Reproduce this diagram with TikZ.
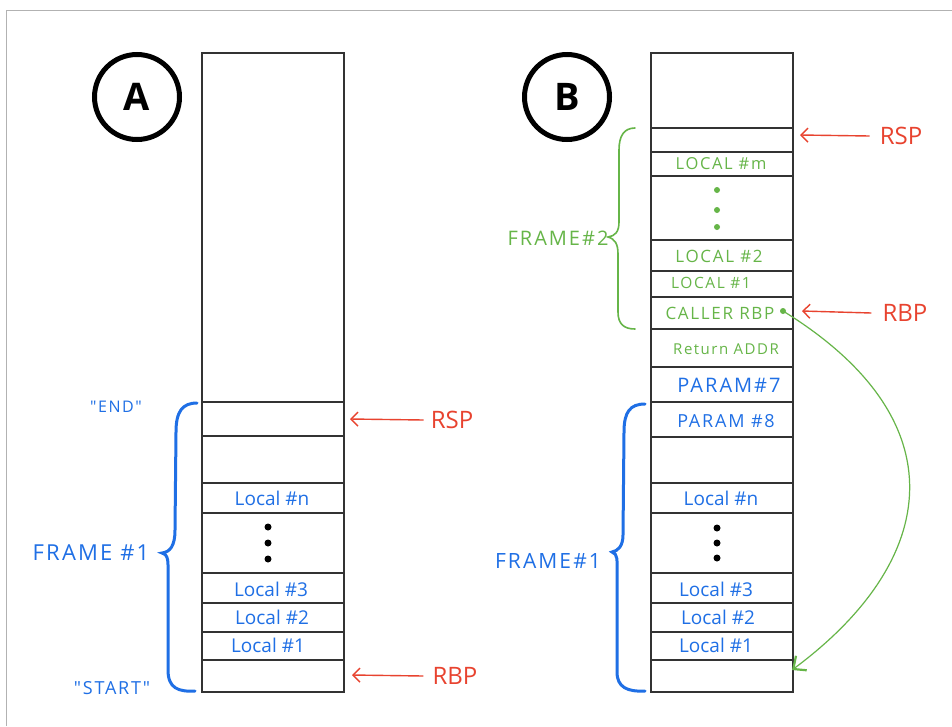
\documentclass[tikz,border=0pt]{standalone}
\usepackage{fontspec}
\setmainfont{Open Sans}
\newfontfamily\handcaps[LetterSpace=10]{Open Sans}
\usetikzlibrary{arrows.meta}
\definecolor{hblue}{HTML}{1F6FE5}
\definecolor{hred}{HTML}{E8432F}
\definecolor{hgreen}{HTML}{66B548}
\definecolor{hgray}{HTML}{333333}
\newcommand{\fsz}[1]{\fontsize{#1}{#1}\selectfont}
\tikzset{
  cellline/.style={draw=hgray, line width=1.1},
  bluetxt/.style={text=hblue, inner sep=0, font=\fsz{19}},
  bluecap/.style={text=hblue, inner sep=0, font=\handcaps\fsz{#1}},
  greencap/.style={text=hgreen, inner sep=0, font=\handcaps\fsz{#1}},
  redtxt/.style={text=hred, inner sep=0, font=\fsz{24}},
  redarr/.style={draw=hred, line width=1.4, -{Straight Barb[length=7,width=14]}},
  letter/.style={circle, draw=black, line width=5, minimum size=85, inner sep=0,
    font=\bfseries\fsz{38}},
  dot/.style={circle, fill=black, inner sep=0, minimum size=7},
  gdot/.style={circle, fill=hgreen, inner sep=0, minimum size=6},
}
\begin{document}
\begin{tikzpicture}[x=1pt,y=-1pt]
\useasboundingbox (0,0) rectangle (952,726);
\fill[white] (0,0) rectangle (952,726);
\draw[gray!60, line width=1] (6,726) -- (6,10) -- (952,10);

% circles
\node[letter] (circA) at (137,97) {A};
\node[letter] (circB) at (567,97) {B};

% column A
\draw[cellline] (202,53) rectangle (344,692);
\foreach \y in {402,436,483,513,573,603,632,660}
  \draw[cellline] (202,\y) -- (344,\y);

% column B
\draw[cellline] (651,53) rectangle (793,692);
\foreach \y in {128,152,176,240,271,297,329,367,402,437,483,513,573,603,632,660}
  \draw[cellline] (651,\y) -- (793,\y);

% column A texts
\node[bluetxt] (aLn) at (272,498) {Local \#n};
\node[dot] (ad1) at (268,527) {};
\node[dot] (ad2) at (268,543) {};
\node[dot] (ad3) at (268,559) {};
\node[bluetxt] (aL3) at (271,589) {Local \#3};
\node[bluetxt] (aL2) at (272,617) {Local \#2};
\node[bluetxt] (aL1) at (268,645) {Local \#1};

% column B texts
\node[greencap=16.5] (bLm) at (721,164) {LOCAL \#m};
\node[gdot] (bg1) at (717,190) {};
\node[gdot] (bg2) at (717,210) {};
\node[gdot] (bg3) at (717,227) {};
\node[greencap=17] (bL2) at (719,256) {LOCAL \#2};
\node[greencap=15.5] (bL1) at (711,283) {LOCAL \#1};
\node[greencap=17] (bCR) at (720,313) {CALLER RBP};
\node[gdot] (crdot) at (783,311) {};
\node[greencap=15] (bRA) at (726,349) {Return ADDR};
\node[bluecap=20] (bP7) at (729,385) {PARAM\#7};
\node[bluecap=18] (bP8) at (726,421) {PARAM \#8};
\node[bluetxt] (bLn) at (721,498) {Local \#n};
\node[dot] (bd1) at (717,528) {};
\node[dot] (bd2) at (717,543) {};
\node[dot] (bd3) at (717,558) {};
\node[bluetxt] (bL3) at (716,589) {Local \#3};
\node[bluetxt] (bL2b) at (718,617) {Local \#2};
\node[bluetxt] (bL1b) at (716,645) {Local \#1};

% red labels and arrows
\node[redtxt] (rspA) at (452,420) {RSP};
\coordinate (rspAt) at (350,419);
\draw[redarr] ([xshift=-7]rspA.west) -- (rspAt);
\node[redtxt] (rbpA) at (455,676) {RBP};
\coordinate (rbpAt) at (352,675);
\draw[redarr] ([xshift=-9]rbpA.west) -- (rbpAt);
\node[redtxt] (rspB) at (901,136) {RSP};
\coordinate (rspBt) at (800,135);
\draw[redarr] ([xshift=-10]rspB.west) -- (rspBt);
\node[redtxt] (rbpB) at (905,313) {RBP};
\coordinate (rbpBt) at (802,311);
\draw[redarr] ([xshift=-11]rbpB.west) -- (rbpBt);

% green curved arrow
\coordinate (grEnd) at (792,670);
\draw[hgreen, line width=1.2, -{Straight Barb[length=10,width=18, line width=2.2]}]
  (crdot.center) .. controls (960,420) and (940,560) .. (grEnd);

% braces
\draw[hblue, line width=3, line cap=round]
  (197,403) .. controls (182,403) and (176,412) .. (176,432) -- (175,530)
  .. controls (175,546) and (170,552) .. (162,553)
  .. controls (169,555) and (168,562) .. (168,575) -- (168,670)
  .. controls (168,688) and (178,692) .. (195,691);
\node[bluecap=22] (frameA) at (91,553) {FRAME \#1};
\node[bluecap=16] (endA) at (116,407) {"END"};
\node[bluecap=18] (startA) at (112,688) {"START"};

\draw[hgreen, line width=1.6, line cap=round]
  (635,128) .. controls (624,128) and (619,136) .. (619,150) -- (619,222)
  .. controls (619,232) and (615,236) .. (608,237)
  .. controls (615,239) and (618,244) .. (618,254) -- (618,312)
  .. controls (618,324) and (624,329) .. (635,329);
\node[greencap=20] (frameB2) at (558,238) {FRAME\#2};

\draw[hblue, line width=3, line cap=round]
  (645,404) .. controls (630,404) and (624,412) .. (624,432) -- (623,535)
  .. controls (623,546) and (618,551) .. (612,552)
  .. controls (618,554) and (617,560) .. (617,572) -- (617,672)
  .. controls (617,687) and (627,692) .. (645,691);
\node[bluecap=21] (frameB1) at (548,561) {FRAME\#1};
\end{tikzpicture}
\end{document}
